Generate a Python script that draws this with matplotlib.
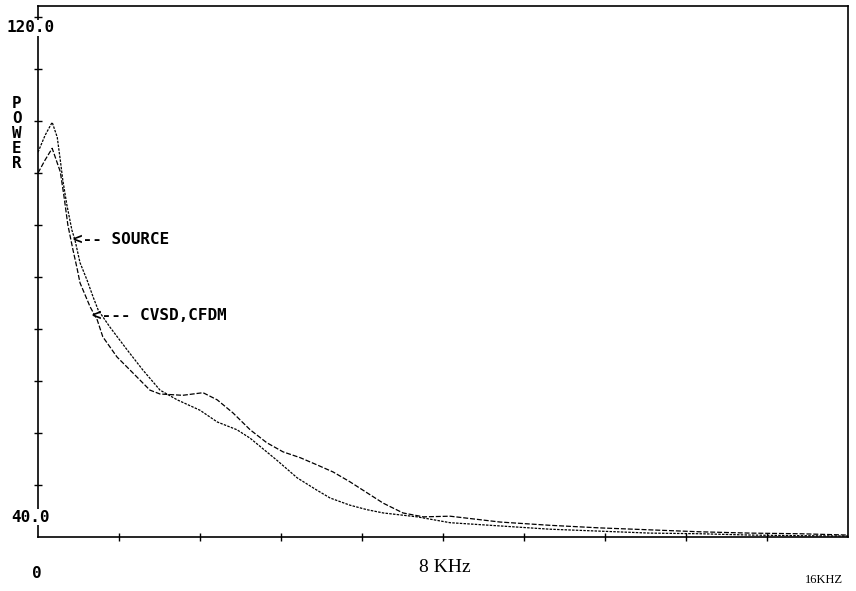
import matplotlib
matplotlib.use("Agg")
import matplotlib.pyplot as plt

# spectrum readings, frequency in kHz, power in dB
source_f = [0.0, 0.14, 0.28, 0.38, 0.44, 0.49, 0.57, 0.67, 0.73, 0.83, 0.97, 1.09,
            1.19, 1.42, 1.76, 2.07, 2.41, 2.75, 3.20, 3.54, 3.93, 4.19, 4.72, 5.12,
            5.51, 5.77, 6.16, 6.50, 6.82, 7.49, 8.14, 9.13, 10.11, 11.10, 12.09,
            13.08, 14.06, 15.05, 16.0]
source_p = [99.2, 101.8, 103.8, 101.5, 98.0, 94.9, 91.1, 87.2, 85.7, 82.2, 79.5, 76.9,
            74.9, 72.3, 68.8, 65.7, 62.6, 61.1, 59.5, 57.7, 56.5, 55.2, 51.8, 49.1,
            47.2, 46.0, 44.9, 44.2, 43.7, 43.1, 42.2, 41.7, 41.2, 40.9, 40.6,
            40.5, 40.3, 40.2, 40.15]

cvsd_f = [0.0, 0.14, 0.28, 0.36, 0.44, 0.51, 0.59, 0.69, 0.77, 0.83, 1.03, 1.17,
          1.28, 1.56, 1.88, 2.21, 2.41, 2.86, 3.26, 3.54, 3.85, 4.19, 4.52, 4.84,
          5.18, 5.51, 5.83, 6.16, 6.50, 6.82, 7.21, 7.61, 8.14, 9.13, 10.11, 11.10,
          12.09, 13.08, 14.06, 15.05, 16.0]
cvsd_p = [96.0, 98.0, 99.8, 98.0, 96.2, 92.6, 88.0, 84.2, 81.4, 79.1, 75.4, 73.4,
          70.8, 67.7, 65.2, 62.6, 62.0, 61.8, 62.2, 61.1, 59.1, 56.5, 54.5, 53.1,
          52.2, 51.1, 50.0, 48.5, 46.8, 45.2, 43.7, 43.1, 43.2, 42.3, 41.8, 41.4,
          41.1, 40.8, 40.6, 40.5, 40.3]

x_ticks = [1.6 * k for k in range(1, 10)]
y_ticks = [40 + 8 * k for k in range(1, 11)]

W, H = 856, 591
fig = plt.figure(figsize=(W / 100, H / 100), dpi=100)
ax = fig.add_axes([38 / W, 54 / H, 810 / W, 531 / H])

ax.plot(source_f, source_p, color="black", lw=0.9, ls=(0, (2, 1)))
ax.plot(cvsd_f, cvsd_p, color="black", lw=0.9, ls=(0, (4, 1.5)))

ax.set_xlim(0, 16)
ax.set_ylim(40, 40 + 531 / 6.5)
ax.set_xticks(x_ticks)
ax.set_yticks(y_ticks)
ax.tick_params(direction="inout", length=6, width=1, labelbottom=False, labelleft=False)
for s in ax.spines.values():
    s.set_linewidth(1.2)

mono = dict(family="DejaVu Sans Mono", weight="bold", fontsize=11.5)
box = dict(facecolor="white", edgecolor="none", pad=0.5)


def ftext(x, y, s, **kw):
    fig.text(x / W, 1 - y / H, s, **kw)


ftext(31, 28, "120.0", ha="center", va="center", bbox=box, **mono)
ftext(31, 517, "40.0", ha="center", va="center", bbox=box, **mono)
ftext(37, 574, "0", ha="center", va="center", **mono)
ftext(17, 134, "P\nO\nW\nE\nR", ha="center", va="center", linespacing=1.0, **mono)
ftext(445, 567, "8 KHz", ha="center", va="center", family="Liberation Serif", fontsize=14)
ftext(824, 580, "16KHZ", ha="center", va="center", family="Liberation Serif", fontsize=9)
ftext(73, 240, "<-- SOURCE", ha="left", va="center", **mono)
ftext(92, 315, "<--- CVSD,CFDM", ha="left", va="center", **mono)

fig.savefig("out.png", dpi=100)
